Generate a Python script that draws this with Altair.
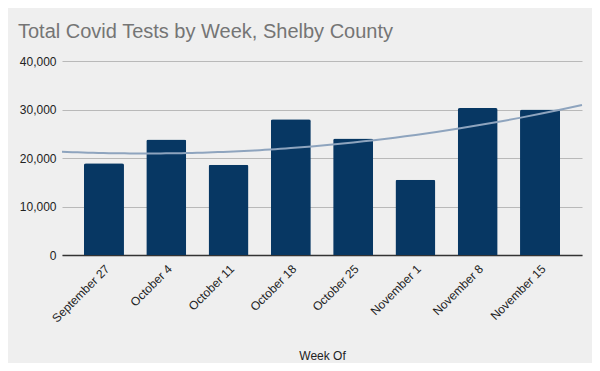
import altair as alt
import pandas as pd

weeks = ["September 27", "October 4", "October 11", "October 18",
         "October 25", "November 1", "November 8", "November 15"]
tests = [18900, 23800, 18600, 28000, 24000, 15500, 30300, 30000]
y_ticks = [0, 10000, 20000, 30000, 40000]

df = pd.DataFrame({"week": weeks, "tests": tests})

FONT = "Liberation Sans"
X_EXT = [-0.674, 7.674]

base = alt.Chart(df)

bars = base.mark_bar(
    color="#073763", cornerRadiusTopLeft=2, cornerRadiusTopRight=2
).encode(
    x=alt.X(
        "week:N", sort=weeks,
        scale=alt.Scale(paddingInner=0.358, paddingOuter=0.353),
        axis=alt.Axis(
            title="Week Of", labelAngle=-45, ticks=False, labelPadding=8,
            domainColor="#333333", domainWidth=1.3,
            labelFont=FONT, labelFontSize=12, labelColor="#222222",
            titleFont=FONT, titleFontSize=12, titleFontWeight="normal",
            titleColor="#222222", titlePadding=26,
        ),
    ),
    y=alt.Y(
        "tests:Q",
        scale=alt.Scale(domain=[0, 40000]),
        axis=alt.Axis(
            title=None, values=y_ticks, format=",.0f", domain=False, ticks=False,
            labelPadding=6, labelFont=FONT, labelFontSize=12,
            labelColor="#222222", gridColor="#b9b9b9", gridWidth=1,
        ),
    ),
)

trend = base.transform_window(
    rn="row_number()"
).transform_calculate(
    idx="datum.rn - 1"
).transform_regression(
    "idx", "tests", method="poly", order=2, extent=X_EXT
).mark_line(color="#8ea4be", strokeWidth=2).encode(
    x=alt.X("idx:Q", scale=alt.Scale(domain=X_EXT, nice=False, zero=False), axis=None),
    y=alt.Y("tests:Q"),
)

chart = alt.layer(bars, trend).resolve_scale(x="independent").properties(
    width=520,
    height=194,
    background="#efefef",
    padding={"left": 54, "top": 53, "right": 10, "bottom": 108},
    autosize=alt.AutoSizeParams(type="none"),
    title=alt.TitleParams(
        "Total Covid Tests by Week, Shelby County",
        anchor="start", frame="group", dx=-44, dy=20, offset=17,
        baseline="alphabetic", fontSize=20, font=FONT,
        fontWeight="normal", color="#757575",
    ),
).configure_view(stroke=None)

chart.save("out.html", embed_options={"renderer": "svg", "actions": False})
